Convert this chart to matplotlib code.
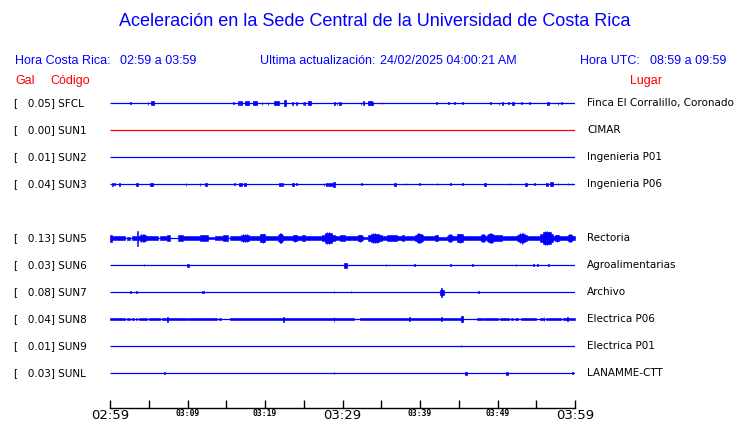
import matplotlib
matplotlib.use("Agg")
import matplotlib.pyplot as plt

# Stations (top to bottom); slot 4 is empty (SUN4 missing)
codes = ["SFCL", "SUN1", "SUN2", "SUN3", "SUN5", "SUN6", "SUN7", "SUN8", "SUN9", "SUNL"]
gal = [0.05, 0.00, 0.01, 0.04, 0.13, 0.03, 0.08, 0.04, 0.01, 0.03]
places = ["Finca El Corralillo, Coronado", "CIMAR", "Ingenieria P01", "Ingenieria P06",
          "Rectoria", "Agroalimentarias", "Archivo", "Electrica P06", "Electrica P01",
          "LANAMME-CTT"]
slots = [0, 1, 2, 3, 5, 6, 7, 8, 9, 10]
trace_colors = ["blue", "red", "blue", "blue", "blue", "blue", "blue", "blue", "blue", "blue"]

# events per station: (minute after 02:59, half amplitude, duration in minutes)
sfcl_ev = [(2.6, 1.0, 0.1), (4.9, 1.5, 0.1), (5.5, 1.7, 0.35), (15.9, 1.0, 0.1), (16.6, 1.7, 0.15),
           (16.9, 1.7, 0.3), (17.7, 1.7, 0.5), (18.7, 1.7, 0.6), (19.6, 1.5, 0.1), (20.4, 1.5, 0.1),
           (21.5, 1.7, 0.7), (22.6, 3.0, 0.3), (23.5, 1.5, 0.1), (24.1, 1.5, 0.1), (24.9, 1.5, 0.1),
           (25.1, 1.5, 0.1), (25.8, 1.7, 0.4), (29.0, 1.5, 0.1), (29.3, 1.5, 0.1), (29.7, 1.5, 0.2),
           (32.4, 1.5, 0.1), (32.7, 2.0, 0.1), (33.5, 2.2, 0.5), (33.9, 1.5, 0.1), (35.1, 1.2, 0.1),
           (42.1, 1.2, 0.1), (43.7, 1.2, 0.1), (44.5, 1.0, 0.1), (45.5, 1.2, 0.1), (49.1, 1.0, 0.1),
           (50.2, 1.5, 0.1), (50.6, 1.5, 0.1), (51.4, 1.2, 0.1), (52.0, 1.5, 0.2), (53.1, 1.0, 0.1),
           (54.1, 1.0, 0.1), (56.5, 1.5, 0.3), (57.8, 1.5, 0.1), (58.3, 1.0, 0.1)]
sun3_ev = [(0.3, 1.5, 0.1), (0.6, 1.0, 0.1), (1.2, 1.5, 0.1), (3.5, 1.5, 0.3), (5.3, 1.5, 0.3),
           (5.5, 1.5, 0.1), (9.8, 1.5, 0.1), (11.6, 1.5, 0.1), (12.4, 1.5, 0.3), (16.1, 1.0, 0.1),
           (16.8, 1.5, 0.35), (17.4, 1.5, 0.3), (21.9, 1.5, 0.3), (22.3, 1.5, 0.1), (23.6, 1.5, 0.25),
           (24.1, 1.0, 0.1), (27.6, 1.5, 0.1), (28.0, 1.5, 0.3), (28.4, 1.5, 0.4), (28.9, 2.5, 0.3),
           (32.5, 1.0, 0.1), (36.8, 1.5, 0.3), (38.2, 1.2, 0.1), (39.9, 1.0, 0.1), (42.2, 1.2, 0.1),
           (43.9, 1.0, 0.1), (45.5, 1.0, 0.1), (48.4, 1.5, 0.3), (51.6, 1.0, 0.1), (53.7, 1.5, 0.3),
           (54.8, 1.2, 0.1), (56.4, 1.5, 0.3), (57.0, 1.7, 0.4), (57.8, 1.2, 0.1), (59.1, 1.2, 0.1),
           (59.6, 1.2, 0.1)]
sun6_ev = [(4.4, 1.2, 0.1), (10.1, 1.5, 0.3), (30.4, 2.5, 0.4), (35.6, 0.8, 0.1), (39.3, 1.2, 0.15),
           (43.9, 1.0, 0.1), (46.8, 1.0, 0.1), (52.4, 1.0, 0.1), (54.6, 1.0, 0.1), (55.2, 1.2, 0.1),
           (56.6, 1.2, 0.1)]
sun7_ev = [(2.6, 1.2, 0.15), (3.4, 1.2, 0.2), (12.0, 1.2, 0.25), (28.9, 1.2, 0.1), (31.1, 1.0, 0.1),
           (42.8, 4.5, 0.15), (42.8, 2.5, 0.5), (47.5, 1.2, 0.1)]
sun8_ev = [(7.4, 2.5, 0.1), (22.4, 2.5, 0.15), (28.9, 2.5, 0.1), (38.6, 2.2, 0.1), (42.8, 2.2, 0.1),
           (45.4, 3.0, 0.2), (56.0, 2.2, 0.1), (59.0, 2.0, 0.1)]
sun9_ev = [(45.3, 1.2, 0.1)]
sunl_ev = [(7.0, 1.2, 0.1), (28.9, 1.2, 0.1), (45.9, 1.5, 0.3), (51.2, 1.5, 0.25), (59.7, 1.2, 0.1)]

# continuous noise band of SUN8: (start, end) minutes, and its half amplitude
sun8_band = [(0.0, 1.9), (2.2, 2.6), (2.8, 3.1), (3.4, 3.5), (3.7, 4.8), (5.0, 6.5), (6.7, 10.0),
             (10.2, 13.8), (14.0, 14.3), (15.5, 31.5), (32.2, 45.5), (47.4, 48.1), (48.3, 50.0),
             (50.3, 51.5), (51.7, 52.0), (52.2, 52.7), (53.0, 55.0), (55.5, 56.0), (56.3, 58.2),
             (58.4, 60.0)]
sun8_band_amp = 1.4

# SUN5 envelope segments: (start, end, half amplitude)
sun5_env = [(0.0, 0.3, 3.5), (0.3, 1.5, 2.2), (1.5, 1.9, 2.0), (2.2, 2.6, 1.5), (2.8, 3.5, 2.0),
            (3.5, 3.6, 7.5), (3.6, 4.9, 4.0), (4.9, 6.2, 2.0), (6.5, 7.4, 2.0), (7.4, 7.7, 3.0),
            (8.8, 9.4, 3.0), (9.4, 11.6, 2.0), (11.6, 12.6, 3.0), (12.6, 13.5, 1.2), (13.5, 14.6, 2.0),
            (14.6, 15.2, 3.0), (15.5, 16.5, 2.0), (16.5, 18.3, 4.0), (18.3, 19.1, 2.0),
            (19.1, 20.3, 4.5), (20.3, 21.7, 2.0), (21.7, 22.3, 5.0), (22.3, 23.5, 2.0),
            (23.5, 24.3, 3.5), (24.3, 24.8, 2.0), (24.8, 25.2, 3.0), (25.2, 27.4, 2.0),
            (27.4, 29.0, 6.0), (29.0, 29.7, 2.0), (29.7, 30.3, 3.0), (30.3, 31.9, 2.0),
            (31.9, 32.6, 3.5), (32.6, 33.3, 1.0), (33.3, 35.1, 5.0), (35.1, 35.7, 2.0),
            (35.7, 37.0, 3.0), (37.0, 37.7, 2.0), (37.7, 37.9, 3.0), (37.9, 39.4, 2.0),
            (39.4, 40.4, 5.0), (40.4, 41.9, 2.0), (41.9, 42.3, 3.0), (42.3, 43.5, 1.5),
            (43.5, 44.3, 4.0), (44.3, 44.5, 2.0), (44.5, 45.8, 4.5), (45.8, 47.7, 2.0),
            (47.7, 48.6, 4.0), (48.6, 49.7, 5.0), (49.7, 50.6, 3.0), (50.6, 52.5, 2.0),
            (52.5, 53.8, 5.5), (53.8, 55.5, 2.0), (55.5, 57.2, 7.0), (57.2, 58.1, 3.5),
            (58.1, 59.0, 2.0), (59.0, 59.7, 4.0), (59.7, 60.0, 2.0)]

events = {"SFCL": sfcl_ev, "SUN3": sun3_ev, "SUN6": sun6_ev, "SUN7": sun7_ev,
          "SUN8": sun8_ev, "SUN9": sun9_ev, "SUNL": sunl_ev}

tick_minutes = list(range(0, 61, 5))
tick_labels = ["02:59", "", "03:09", "", "03:19", "", "03:29", "", "03:39", "", "03:49", "", "03:59"]

W, H = 740, 423
fig = plt.figure(figsize=(W / 100, H / 100), dpi=100)
ax = fig.add_axes([110 / W, 15 / H, 465 / W, 332 / H])
ax.set_xlim(0, 60)
ax.set_ylim(11.296, -1)
k = 1 / 27.0  # slot units per amplitude unit
lw = 0.9


def band(x0, x1, y, a, col="blue"):
    ax.fill_between([x0, x1], y - a * k, y + a * k, color=col, lw=0.4)


for code, slot, col in zip(codes, slots, trace_colors):
    ax.hlines(slot, 0, 60, color=col, lw=lw)
    for t, a, d in events.get(code, []):
        ax.bar(t, 2 * a * k, bottom=slot - a * k, width=d, color=col, edgecolor=col, linewidth=0.5)

s8 = slots[codes.index("SUN8")]
for s, e in sun8_band:
    band(s, e, s8, sun8_band_amp)

# SUN5: quiet parts as flat band, bursts as stepped spindles with a central spike
s5 = slots[codes.index("SUN5")]
for s, e, a in sun5_env:
    if a > 3.2 and e - s > 0.3:
        d = e - s
        band(s, e, s5, max(2.0, 0.55 * a))
        band(s + 0.2 * d, e - 0.2 * d, s5, 0.8 * a)
        for f, g in [(0.35, 0.95), (0.5, 1.0), (0.65, 0.9)]:
            ax.vlines(s + f * d, s5 - g * a * k, s5 + g * a * k, color="blue", lw=0.8)
    else:
        band(s, e, s5, a)

for side in ["top", "left", "right"]:
    ax.spines[side].set_visible(False)
ax.spines["bottom"].set_linewidth(1.0)
ax.set_yticks([])
ax.set_xticks(tick_minutes)
ax.set_xticklabels(tick_labels)
ax.tick_params(axis="x", direction="in", length=6, width=1.0, pad=0.5)
for lab in ax.get_xticklabels():
    if lab.get_text() in ("02:59", "03:29", "03:59"):
        lab.set_fontsize(9.5)
        lab.set_family("DejaVu Sans")
    else:
        lab.set_fontsize(5.8)
        lab.set_family("DejaVu Sans Mono")
        lab.set_fontweight("bold")
        lab.set_y(-0.002)


def ftext(x, y, s, **kw):
    fig.text(x / W, 1 - y / H, s, va="center", **kw)


ftext(375, 22, "Aceleración en la Sede Central de la Universidad de Costa Rica",
      ha="center", color="blue", fontsize=13, family="Liberation Sans")
hdr = dict(color="blue", fontsize=9, family="Liberation Sans")
ftext(15, 61, "Hora Costa Rica:", **hdr)
ftext(120, 61, "02:59 a 03:59", **hdr)
ftext(260, 61, "Ultima actualización:", **hdr)
ftext(380, 61, "24/02/2025 04:00:21 AM", **hdr)
ftext(580, 61, "Hora UTC:", **hdr)
ftext(650, 61, "08:59 a 09:59", **hdr)
red = dict(color="red", fontsize=9, family="Liberation Sans")
ftext(15, 81, "Gal", **red)
ftext(50, 81, "Código", **red)
ftext(630, 81, "Lugar", **red)

for code, g, place, slot in zip(codes, gal, places, slots):
    y = 103 + 27 * slot
    ftext(14, y, "[   %.2f] %s" % (g, code), fontsize=7.5, family="DejaVu Sans")
    ftext(587, y, place, fontsize=7.5, family="DejaVu Sans")

fig.savefig("out.png", dpi=100)
